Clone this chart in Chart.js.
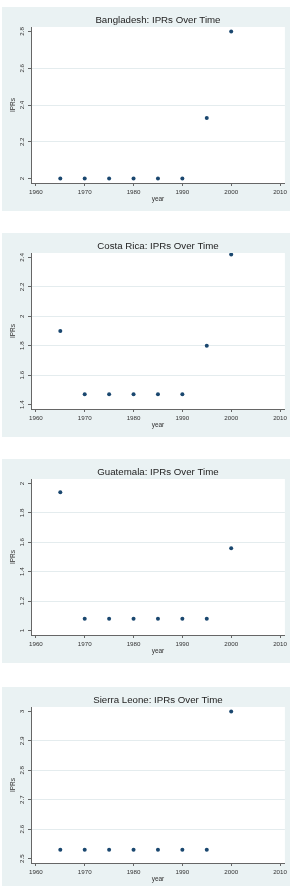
<!DOCTYPE html>
<html>
<head>
<meta charset="utf-8">
<script src="https://cdn.jsdelivr.net/npm/chart.js@4/dist/chart.umd.min.js"></script>
<style>
  html, body { margin: 0; padding: 0; background: #ffffff; width: 293px; height: 886px; overflow: hidden; }
  .panel { position: absolute; left: 2px; width: 288px; height: 204px; background: #eaf2f3; }
  .panel canvas { display: block; }
</style>
</head>
<body>
<div class="panel" style="top:7px"><canvas id="c1" width="288" height="204"></canvas></div>
<div class="panel" style="top:233px"><canvas id="c2" width="288" height="204"></canvas></div>
<div class="panel" style="top:459px"><canvas id="c3" width="288" height="204"></canvas></div>
<div class="panel" style="top:687px"><canvas id="c4" width="288" height="204"></canvas></div>
<script>
// ---- data ----
const years = [1965, 1970, 1975, 1980, 1985, 1990, 1995, 2000];
const xTicks = [1960, 1970, 1980, 1990, 2000, 2010];

const titles = [
  "Bangladesh: IPRs Over Time",
  "Costa Rica: IPRs Over Time",
  "Guatemala: IPRs Over Time",
  "Sierra Leone: IPRs Over Time"
];

const bangladesh  = [2, 2, 2, 2, 2, 2, 2.33, 2.8];
const costaRica   = [1.9, 1.47, 1.47, 1.47, 1.47, 1.47, 1.8, 2.42];
const guatemala   = [1.94, 1.08, 1.08, 1.08, 1.08, 1.08, 1.08, 1.56];
const sierraLeone = [2.53, 2.53, 2.53, 2.53, 2.53, 2.53, 2.53, 3];

const bangladeshTicks  = [2, 2.2, 2.4, 2.6, 2.8];
const costaRicaTicks   = [1.4, 1.6, 1.8, 2, 2.2, 2.4];
const guatemalaTicks   = [1, 1.2, 1.4, 1.6, 1.8, 2];
const sierraLeoneTicks = [2.5, 2.6, 2.7, 2.8, 2.9, 3];

const series = [bangladesh, costaRica, guatemala, sierraLeone];
const yTickSets = [bangladeshTicks, costaRicaTicks, guatemalaTicks, sierraLeoneTicks];

// ---- style ----
const FONT = "'Liberation Sans', Arial, Helvetica, sans-serif";
const DOT = '#1a476f';
const AXIS = '#666666';
const GRID = '#e4ecee';
const TXT = '#333333';

const plotBg = {
  id: 'plotBg',
  beforeDraw(chart) {
    const a = chart.chartArea, c = chart.ctx;
    c.save();
    c.fillStyle = '#ffffff';
    c.fillRect(a.left, a.top, a.right - a.left, a.bottom - a.top);
    c.restore();
  },
  afterLayout(chart) {
    if (chart.titleBlock) {
      chart.titleBlock.left = chart.chartArea.left;
      chart.titleBlock.right = chart.chartArea.right;
    }
  }
};

function makeChart(id, title, values, yTicks) {
  const span = yTicks[yTicks.length - 1] - yTicks[0];
  const pad = 0.03 * span;
  const pts = years.map((yr, i) => ({ x: yr, y: values[i] }));
  new Chart(document.getElementById(id), {
    type: 'scatter',
    data: { datasets: [{ data: pts, backgroundColor: DOT, borderColor: DOT, pointRadius: 2, pointBorderWidth: 0 }] },
    options: {
      responsive: false,
      animation: false,
      layout: { padding: { left: 0, right: 5, top: 0, bottom: 0 }, autoPadding: false },
      plugins: {
        legend: { display: false },
        tooltip: { enabled: false },
        title: {
          display: true, text: title, color: '#222222',
          font: { family: FONT, size: 9.7, weight: 'normal', lineHeight: 1.2 },
          padding: { top: 8, bottom: 0.4 }
        }
      },
      scales: {
        x: {
          type: 'linear', min: 1959, max: 2011,
          afterBuildTicks: s => { s.ticks = xTicks.map(v => ({ value: v })); },
          afterFit: s => { s.height = 28; },
          ticks: { color: TXT, font: { family: FONT, size: 6.2 }, padding: 3, autoSkip: false, maxRotation: 0, minRotation: 0, callback: v => String(v) },
          grid: { drawOnChartArea: false, drawTicks: true, tickLength: 3, tickColor: AXIS },
          border: { display: true, color: AXIS, width: 1 },
          title: { display: true, text: 'year', color: TXT, font: { family: FONT, size: 6.5 }, padding: { top: 0, bottom: 7.8 } }
        },
        y: {
          type: 'linear', min: yTicks[0] - pad, max: yTicks[yTicks.length - 1] + pad,
          afterBuildTicks: s => { s.ticks = yTicks.map(v => ({ value: v })); },
          afterFit: s => { s.width = 29; },
          ticks: { color: TXT, font: { family: FONT, size: 6.2 }, padding: 1, autoSkip: false, minRotation: 90, maxRotation: 90, crossAlign: 'center', callback: v => String(v) },
          grid: {
            drawOnChartArea: true, drawTicks: true, tickLength: 3, tickColor: AXIS, lineWidth: 1,
            color: ctx => (ctx.index === 0 || ctx.index === yTicks.length - 1) ? 'rgba(0,0,0,0)' : GRID
          },
          border: { display: true, color: AXIS, width: 1 },
          title: { display: true, text: 'IPRs', color: TXT, font: { family: FONT, size: 6.5 }, padding: { top: 7, bottom: 0 } }
        }
      }
    },
    plugins: [plotBg]
  });
}

['c1', 'c2', 'c3', 'c4'].forEach((id, i) => makeChart(id, titles[i], series[i], yTickSets[i]));
</script>
</body>
</html>
